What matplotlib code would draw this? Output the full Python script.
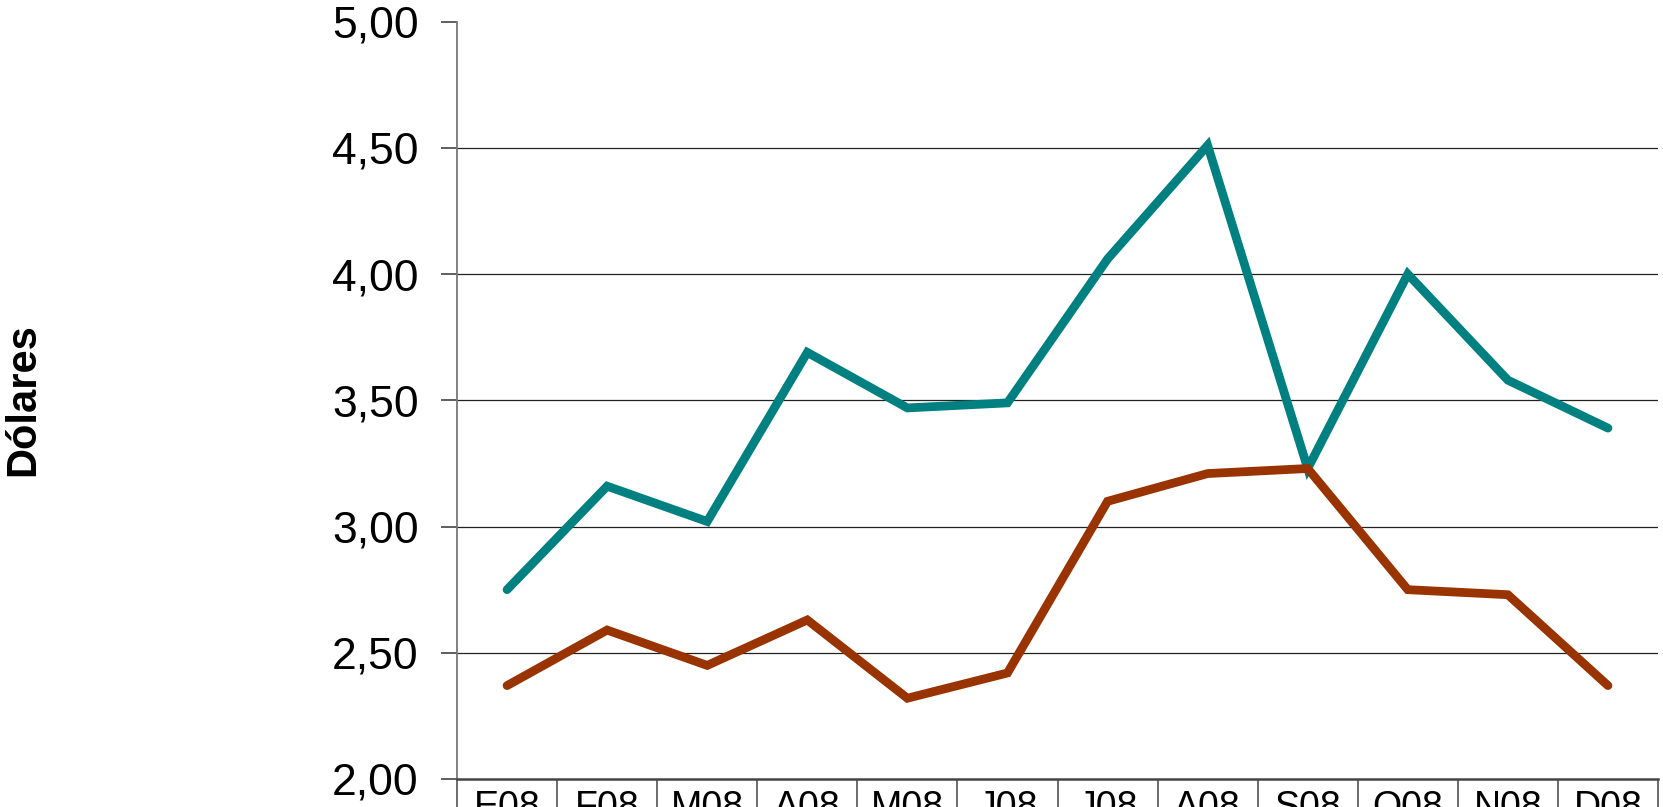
import matplotlib
matplotlib.use('Agg')
import matplotlib.pyplot as plt
from matplotlib.ticker import FuncFormatter

plt.rcParams['font.family'] = ['Liberation Sans', 'DejaVu Sans']

months = ['E08', 'F08', 'M08', 'A08', 'M08', 'J08',
          'J08', 'A08', 'S08', 'O08', 'N08', 'D08']
serie_a = [2.75, 3.16, 3.02, 3.69, 3.47, 3.49,
           4.06, 4.51, 3.23, 4.00, 3.58, 3.39]
serie_b = [2.37, 2.59, 2.45, 2.63, 2.32, 2.42,
           3.10, 3.21, 3.23, 2.75, 2.73, 2.37]
y_ticks = [2.0, 2.5, 3.0, 3.5, 4.0, 4.5, 5.0]

TEAL = '#008080'
BROWN = '#993300'
GRID = '#222222'

fig = plt.figure(figsize=(16.63, 8.07), dpi=100)
ax = fig.add_axes([457 / 1663, 1 - 779 / 807, 1201 / 1663, 757.3 / 807])

x = [i + 0.5 for i in range(len(months))]
ax.plot(x, serie_a, color=TEAL, lw=6.3, solid_capstyle='round',
        solid_joinstyle='miter', zorder=3)
ax.plot(x, serie_b, color=BROWN, lw=6.3, solid_capstyle='round',
        solid_joinstyle='miter', zorder=3)

ax.set_xlim(0, len(months))
ax.set_ylim(2, 5)

# horizontal gridlines (none at the top)
for v in y_ticks[1:-1]:
    ax.axhline(v, color=GRID, lw=0.9, zorder=1)

ax.set_yticks(y_ticks)
ax.yaxis.set_major_formatter(FuncFormatter(lambda v, _: f'{v:.2f}'.replace('.', ',')))
ax.tick_params(axis='y', direction='out', length=11.5, width=1.1, color='#333333',
               labelsize=32, pad=16, labelcolor='black')

ax.set_xticks(x)
ax.set_xticklabels(months)
ax.tick_params(axis='x', length=0, labelsize=27, pad=8, labelcolor='black')

for side in ('top', 'right'):
    ax.spines[side].set_visible(False)
ax.spines['left'].set_color('#777777')
ax.spines['left'].set_linewidth(1.3)
ax.spines['bottom'].set_color('#444444')
ax.spines['bottom'].set_linewidth(1.8)

# category cell dividers below the axis
ax.vlines(range(len(months) + 1), 1.8, 2.0, color='#444444', lw=1.1, clip_on=False)

fig.text(23 / 1663, 1 - 400 / 807, 'Dólares', rotation=90, fontsize=30,
         fontweight='bold', ha='center', va='center')

fig.savefig('out.png', dpi=100, facecolor='white')
